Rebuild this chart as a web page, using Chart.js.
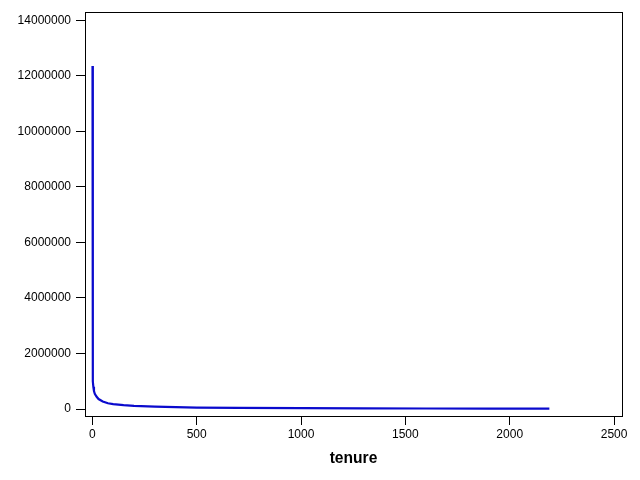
<!DOCTYPE html>
<html>
<head>
<meta charset="utf-8">
<script src="https://cdn.jsdelivr.net/npm/chart.js@4/dist/chart.umd.min.js"></script>
<style>
	html, body { margin: 0; padding: 0; background: #fff; }
	canvas { display: block; }
</style>
</head>
<body>
<canvas id="tenureChart" width="640" height="480"></canvas>
<script>
// tenure (x) and value (y)
const tenure = [1, 2, 3, 5, 8, 12, 20, 30, 50, 75, 100, 150, 200, 300, 400, 500, 700, 1000, 1300, 1600, 1900, 2190];
const values = [12350000, 1400000, 1000000, 800000, 650000, 550000, 450000, 360000, 270000, 210000, 175000, 140000, 115000, 85000, 68000, 55000, 42000, 30000, 24000, 20000, 17000, 15000];

const xTicks = [0, 500, 1000, 1500, 2000, 2500];
const yTicks = [0, 2000000, 4000000, 6000000, 8000000, 10000000, 12000000, 14000000];

const points = tenure.map((t, i) => ({ x: t, y: values[i] }));

// black frame round the plot area
const framePlugin = {
	id: 'frame',
	afterDraw(chart) {
		const { ctx, chartArea } = chart;
		ctx.save();
		ctx.strokeStyle = '#000';
		ctx.lineWidth = 1;
		ctx.strokeRect(
			Math.round(chartArea.left) + 0.5,
			Math.round(chartArea.top) + 0.5,
			Math.round(chartArea.right - chartArea.left),
			Math.round(chartArea.bottom - chartArea.top)
		);
		ctx.restore();
	},
};

const tickFont = { family: 'Arial, "Liberation Sans", sans-serif', size: 12 };

new Chart(document.getElementById('tenureChart').getContext('2d'), {
	type: 'line',
	data: {
		datasets: [
			{
				data: points,
				borderColor: 'rgb(10, 10, 205)',
				borderWidth: 2.2,
				pointRadius: 0,
				fill: false,
				tension: 0,
			},
		],
	},
	options: {
		responsive: false,
		animation: false,
		layout: { padding: { top: 12, right: 18, left: 0, bottom: 0 } },
		plugins: {
			legend: { display: false },
			tooltip: { enabled: false },
		},
		scales: {
			x: {
				type: 'linear',
				min: -35,
				max: 2538,
				afterBuildTicks: (axis) => {
					axis.ticks = xTicks.map((v) => ({ value: v }));
				},
				afterFit: (axis) => {
					axis.height = 64;
				},
				grid: { drawOnChartArea: false, drawTicks: true, tickLength: 9, color: '#000' },
				border: { color: '#000', width: 1 },
				ticks: {
					color: '#000',
					font: tickFont,
					padding: 2,
					maxRotation: 0,
					autoSkip: false,
					callback: (v) => String(v),
				},
				title: {
					display: true,
					text: 'tenure',
					color: '#000',
					font: { family: 'Arial, "Liberation Sans", sans-serif', size: 15.6, weight: 'bold' },
					padding: { top: 0, bottom: 12 },
				},
			},
			y: {
				min: -250000,
				max: 14290000,
				afterBuildTicks: (axis) => {
					axis.ticks = yTicks.map((v) => ({ value: v }));
				},
				afterFit: (axis) => {
					axis.width = 85;
				},
				grid: { drawOnChartArea: false, drawTicks: true, tickLength: 9, color: '#000' },
				border: { color: '#000', width: 1 },
				ticks: {
					color: '#000',
					font: tickFont,
					padding: 5,
					autoSkip: false,
					callback: (v) => String(v),
				},
			},
		},
	},
	plugins: [framePlugin],
});
</script>
</body>
</html>
